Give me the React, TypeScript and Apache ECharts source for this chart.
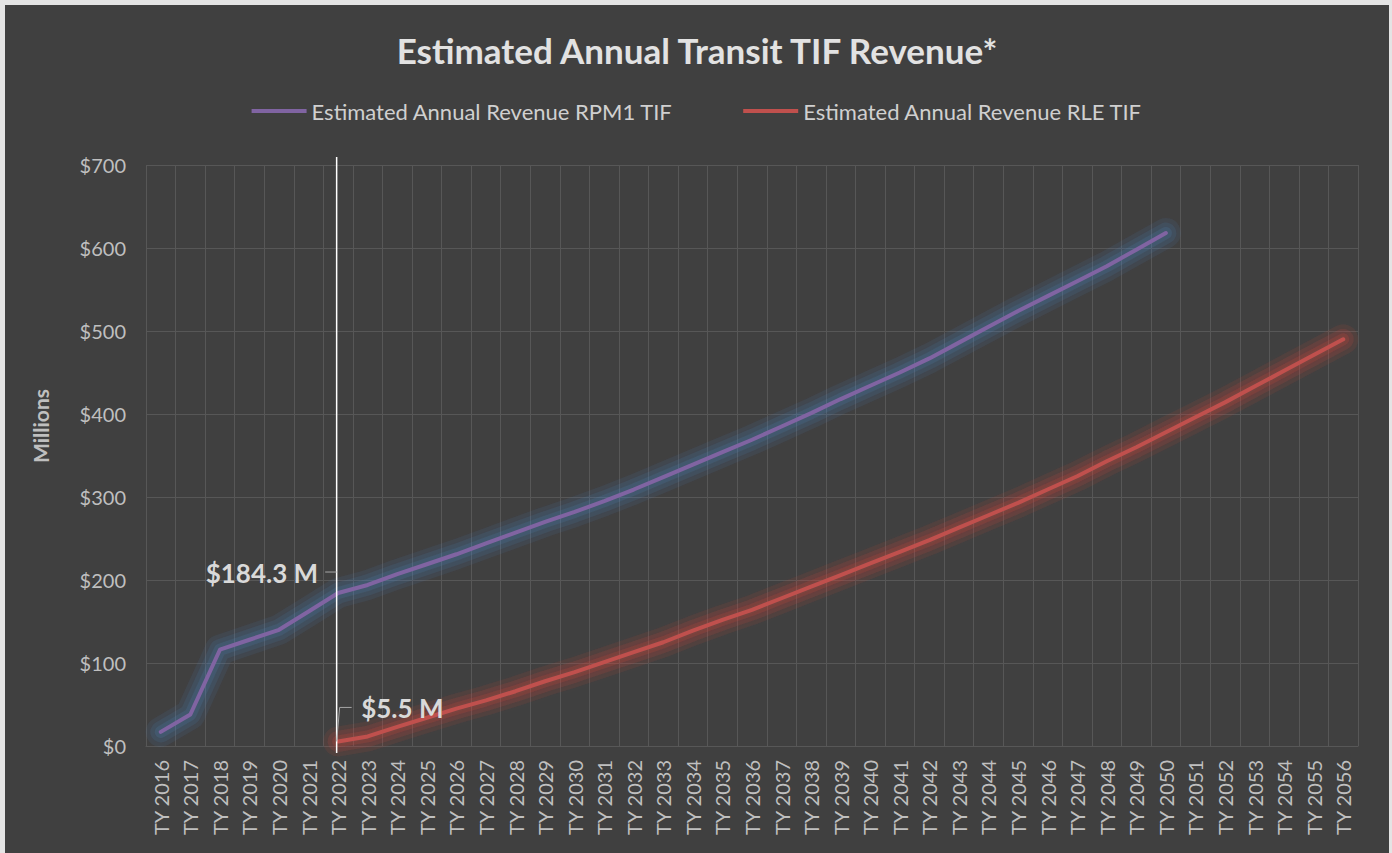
import React, { useEffect, useRef } from "react";
import * as echarts from "echarts";

const categories = [
  "TY 2016", "TY 2017", "TY 2018", "TY 2019", "TY 2020", "TY 2021", "TY 2022", "TY 2023", "TY 2024", "TY 2025",
  "TY 2026", "TY 2027", "TY 2028", "TY 2029", "TY 2030", "TY 2031", "TY 2032", "TY 2033", "TY 2034", "TY 2035",
  "TY 2036", "TY 2037", "TY 2038", "TY 2039", "TY 2040", "TY 2041", "TY 2042", "TY 2043", "TY 2044", "TY 2045",
  "TY 2046", "TY 2047", "TY 2048", "TY 2049", "TY 2050", "TY 2051", "TY 2052", "TY 2053", "TY 2054", "TY 2055",
  "TY 2056",
];

const rpm1Values = [
  17, 38, 116, 128, 140, 162, 184.3, 194, 207, 219,
  231, 244, 257, 270, 282, 295, 309, 324, 339, 354,
  369, 385, 401, 418, 434, 450, 467, 486, 505, 524,
  542, 560, 578, 598, 618, null, null, null, null, null,
  null,
];

const rleValues = [
  null, null, null, null, null, null, 5.5, 11.5, 23, 34,
  45, 55, 66, 78, 89, 101, 113, 125, 139, 152,
  164, 178, 192, 206, 220, 234, 248, 263, 278, 293,
  309, 325, 343, 360, 378, 396, 414, 433, 452, 471,
  490,
];

const yTicks = [0, 100, 200, 300, 400, 500, 600, 700];

const seriesNames = ["Estimated Annual Revenue RPM1 TIF", "Estimated Annual Revenue RLE TIF"];
const markerCategory = "TY 2022";
const markerRpm1 = 184.3;
const markerRle = 5.5;
const labelRpm1 = "$184.3 M";
const labelRle = "$5.5 M";

function glowSeries(id: string, data: (number | null)[], color: string, width: number, blur: number) {
  return {
    id,
    name: id,
    type: "line",
    data,
    symbol: "none",
    silent: true,
    connectNulls: false,
    z: 1,
    lineStyle: {
      color,
      width,
      cap: "round",
      join: "round",
      shadowColor: color,
      shadowBlur: blur,
    },
  };
}

export default function App() {
  const ref = useRef<HTMLDivElement>(null);

  useEffect(() => {
    if (!ref.current) return;
    const chart = echarts.init(ref.current, undefined, { renderer: "svg" });
    const option: any = {
      animation: false,
      backgroundColor: "#404040",
      textStyle: { fontFamily: "Lato" },
      title: {
        text: "Estimated Annual Transit TIF Revenue*",
        left: "center",
        top: 22,
        textStyle: { color: "#e2e2e2", fontSize: 35, fontWeight: "bold", fontFamily: "Lato" },
      },
      legend: {
        top: 90,
        left: "center",
        icon: "rect",
        itemWidth: 55,
        itemHeight: 4,
        itemGap: 70,
        textStyle: { color: "#d0d0d0", fontSize: 22, fontFamily: "Lato" },
        data: seriesNames,
      },
      grid: { left: 141, right: 31, top: 160, bottom: 107, containLabel: false },
      xAxis: {
        type: "category",
        data: categories,
        boundaryGap: true,
        axisLine: { show: true, lineStyle: { color: "#575757" } },
        axisTick: { show: false },
        axisLabel: { rotate: 90, color: "#bfbfbf", fontSize: 20, margin: 14, interval: 0, fontFamily: "Lato" },
        splitLine: { show: true, interval: 0, lineStyle: { color: "#575757", width: 1 } },
      },
      yAxis: {
        type: "value",
        min: yTicks[0],
        max: yTicks[yTicks.length - 1],
        interval: 100,
        axisLine: { show: false },
        axisTick: { show: false },
        axisLabel: { formatter: "${value}", color: "#bfbfbf", fontSize: 20, margin: 20, fontFamily: "Lato" },
        splitLine: { show: true, lineStyle: { color: "#575757", width: 1 } },
      },
      series: [
        glowSeries("glow-rpm1-outer", rpm1Values, "rgba(79,129,189,0.10)", 30, 8),
        glowSeries("glow-rpm1-mid", rpm1Values, "rgba(79,129,189,0.13)", 21, 6),
        glowSeries("glow-rpm1-inner", rpm1Values, "rgba(79,129,189,0.16)", 12, 4),
        glowSeries("glow-rle-outer", rleValues, "rgba(200,70,66,0.11)", 30, 8),
        glowSeries("glow-rle-mid", rleValues, "rgba(200,70,66,0.15)", 21, 6),
        glowSeries("glow-rle-inner", rleValues, "rgba(200,70,66,0.19)", 12, 4),
        {
          name: seriesNames[0],
          type: "line",
          data: rpm1Values,
          symbol: "none",
          connectNulls: false,
          z: 3,
          itemStyle: { color: "#8064A2" },
          lineStyle: { color: "#8064A2", width: 4, cap: "round", join: "round" },
        },
        {
          name: seriesNames[1],
          type: "line",
          data: rleValues,
          symbol: "none",
          connectNulls: false,
          z: 3,
          itemStyle: { color: "#C0504D" },
          lineStyle: { color: "#C0504D", width: 4, cap: "round", join: "round" },
        },
      ],
    };
    chart.setOption(option);

    const p1 = chart.convertToPixel({ xAxisIndex: 0, yAxisIndex: 0 }, [markerCategory, markerRpm1]) as number[];
    const p2 = chart.convertToPixel({ xAxisIndex: 0, yAxisIndex: 0 }, [markerCategory, markerRle]) as number[];
    const yTop = chart.convertToPixel({ yAxisIndex: 0 }, yTicks[yTicks.length - 1]) as number;
    const yBot = chart.convertToPixel({ yAxisIndex: 0 }, yTicks[0]) as number;
    const vx = p1[0] - 1.5;

    chart.setOption({
      graphic: [
        {
          type: "line",
          z: 100,
          shape: { x1: vx, y1: yTop - 8, x2: vx, y2: yBot + 7 },
          style: { stroke: "#ffffff", lineWidth: 1.5 },
        },
        {
          type: "polyline",
          z: 100,
          shape: { points: [[p1[0] - 13, p1[1] - 21], [vx, p1[1] - 21]] },
          style: { stroke: "#a6a6a6", lineWidth: 1, fill: "none" },
        },
        {
          type: "text",
          z: 100,
          x: p1[0] - 20,
          y: p1[1] - 20,
          style: {
            text: labelRpm1,
            fill: "#d9d9d9",
            font: "bold 26px Lato",
            align: "right",
            verticalAlign: "middle",
          },
        },
        {
          type: "polyline",
          z: 100,
          shape: { points: [[vx, p2[1]], [vx + 3, p2[1] - 34], [vx + 15, p2[1] - 34]] },
          style: { stroke: "#a6a6a6", lineWidth: 1, fill: "none" },
        },
        {
          type: "text",
          z: 100,
          x: p2[0] + 23,
          y: p2[1] - 33,
          style: {
            text: labelRle,
            fill: "#d9d9d9",
            font: "bold 26px Lato",
            align: "left",
            verticalAlign: "middle",
          },
        },
        {
          type: "text",
          z: 100,
          x: 35,
          y: 421,
          rotation: Math.PI / 2,
          style: {
            text: "Millions",
            fill: "#bfbfbf",
            font: "bold 21px Lato",
            align: "center",
            verticalAlign: "middle",
          },
        },
      ],
    });

    return () => chart.dispose();
  }, []);

  return (
    <div
      style={{
        position: "fixed",
        left: 0,
        top: 0,
        width: 1392,
        height: 853,
        background: "#e4e4e4",
        overflow: "hidden",
      }}
    >
      <div ref={ref} style={{ position: "absolute", left: 5, top: 5, width: 1384, height: 848 }} />
    </div>
  );
}
